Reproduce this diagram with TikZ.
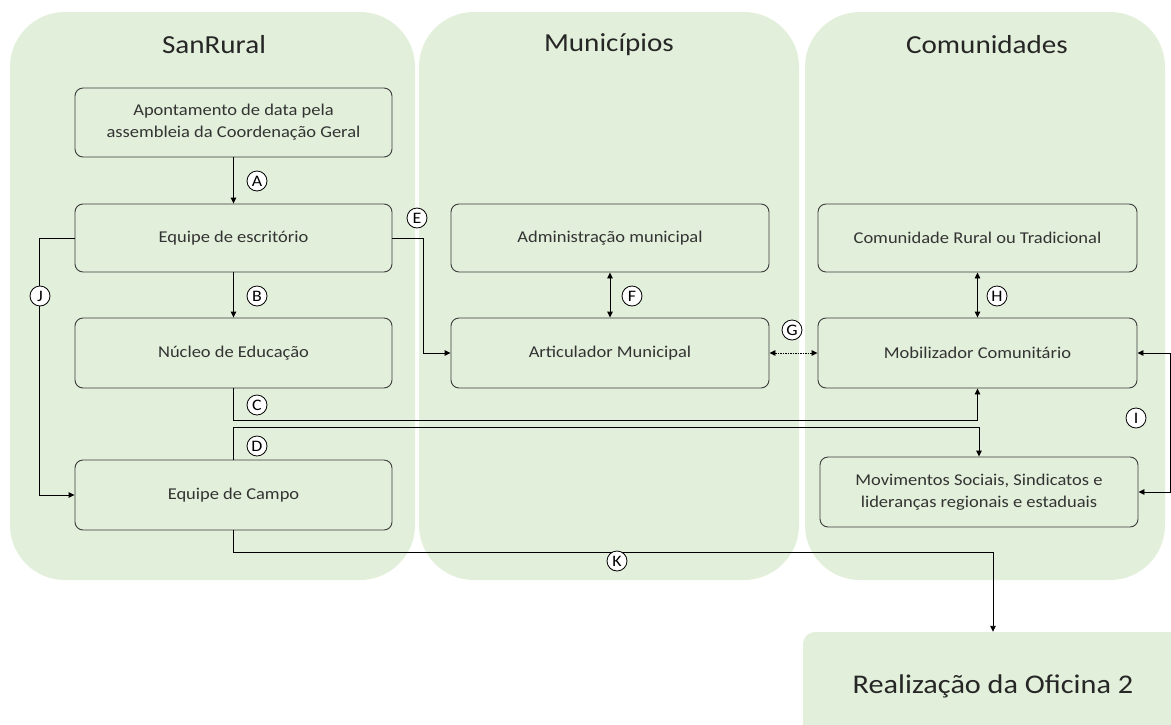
\documentclass[tikz,border=0pt]{standalone}
\usepackage{fontspec}
\setmainfont{Carlito}[FakeStretch=1.12]
\usetikzlibrary{arrows.meta}
\definecolor{lane}{HTML}{E2EFDA}
\definecolor{edge}{HTML}{3C3C3C}
\begin{document}
\begin{tikzpicture}[x=1pt,y=-1pt,
  lanebox/.style={fill=lane,draw=none,rounded corners=55pt,inner sep=0pt},
  lanetitle/.style={font=\fontsize{26}{30}\selectfont,text=black!85},
  procbox/.style={draw=edge,fill=lane,rounded corners=8pt,line width=0.9pt,align=center,
    font=\fontsize{16.5}{22}\selectfont,inner sep=0pt,text=black!80},
  tag/.style={circle,draw,fill=white,line width=0.8pt,minimum size=20pt,inner sep=0pt,
    font=\fontsize{16}{16}\selectfont},
  conn/.style={line width=0.9pt,-{Triangle[length=6pt,width=5.5pt]}},
  biconn/.style={line width=0.9pt,{Triangle[length=6pt,width=5.5pt]}-{Triangle[length=6pt,width=5.5pt]}},
  dotconn/.style={biconn,dash pattern=on 1.5pt off 1pt}]
\useasboundingbox (0,0) rectangle (1171,724);
\clip (0,0) rectangle (1171,724);
% lanes
\node[lanebox,minimum width=405pt,minimum height=568pt] (lane1) at (212.5,296) {};
\node[lanebox,minimum width=380pt,minimum height=568pt] (lane2) at (609,296) {};
\node[lanebox,minimum width=360pt,minimum height=568pt] (lane3) at (985,296) {};
\node[lanetitle] (t1) at (214,45) {SanRural};
\node[lanetitle] (t2) at (609,45) {Municípios};
\node[lanetitle] (t3) at (987,45) {Comunidades};
% boxes
\node[procbox,minimum width=317pt,minimum height=69pt] (apo) at (233.5,122.5) {Apontamento de data pela\\assembleia da Coordenação Geral};
\node[procbox,minimum width=317pt,minimum height=68pt] (esc) at (233.5,238) {Equipe de escritório};
\node[procbox,minimum width=317pt,minimum height=70pt] (nuc) at (233.5,353) {Núcleo de Educação};
\node[procbox,minimum width=317pt,minimum height=70pt] (campo) at (233.5,495) {Equipe de Campo};
\node[procbox,minimum width=318pt,minimum height=68pt] (adm) at (610,238) {Administração municipal};
\node[procbox,minimum width=318pt,minimum height=70pt] (art) at (610,353) {Articulador Municipal};
\node[procbox,minimum width=319pt,minimum height=68pt] (com) at (977.5,238) {Comunidade Rural ou Tradicional};
\node[procbox,minimum width=319pt,minimum height=70pt] (mob) at (977.5,353) {Mobilizador Comunitário};
\node[procbox,minimum width=318pt,minimum height=70pt] (mov) at (979,492) {Movimentos Sociais, Sindicatos e\\lideranças regionais e estaduais};
\node[fill=lane,rounded corners=12pt,minimum width=380pt,minimum height=108pt,inner sep=0pt,
  font=\fontsize{27}{32}\selectfont,text=black!85] (real) at (993,686) {Realização da Oficina 2};
% connectors
\draw[conn] (apo.south) -- (esc.north);
\draw[conn] (esc.south) -- (nuc.north);
\draw[conn] (esc.east) -- ++(31,0) |- (art.west);
\draw[conn] (esc.west) -- ++(-35,0) |- (campo.west);
\draw[biconn] (adm.south) -- (art.north);
\draw[dotconn] (art.east) -- (mob.west);
\draw[biconn] (com.south) -- (mob.north);
\draw[conn] (nuc.south) -- ++(0,32) -| (mob.south);
\draw[conn] (campo.north) -- ++(0,-32) -| (mov.north);
\draw[biconn] (mob.east) -- ++(33,0) |- (mov.east);
\draw[conn] (campo.south) -- ++(0,22) -| (real.north);
% tags
\node[tag] (tA) at (257,181) {A};
\node[tag] (tB) at (257,296) {B};
\node[tag] (tC) at (257,405) {C};
\node[tag] (tD) at (257,446) {D};
\node[tag] (tE) at (417,218) {E};
\node[tag] (tF) at (632,296) {F};
\node[tag] (tG) at (792,330) {G};
\node[tag] (tH) at (997,296) {H};
\node[tag] (tI) at (1136,418) {I};
\node[tag] (tJ) at (40,296) {J};
\node[tag] (tK) at (617,561) {K};
\end{tikzpicture}
\end{document}
